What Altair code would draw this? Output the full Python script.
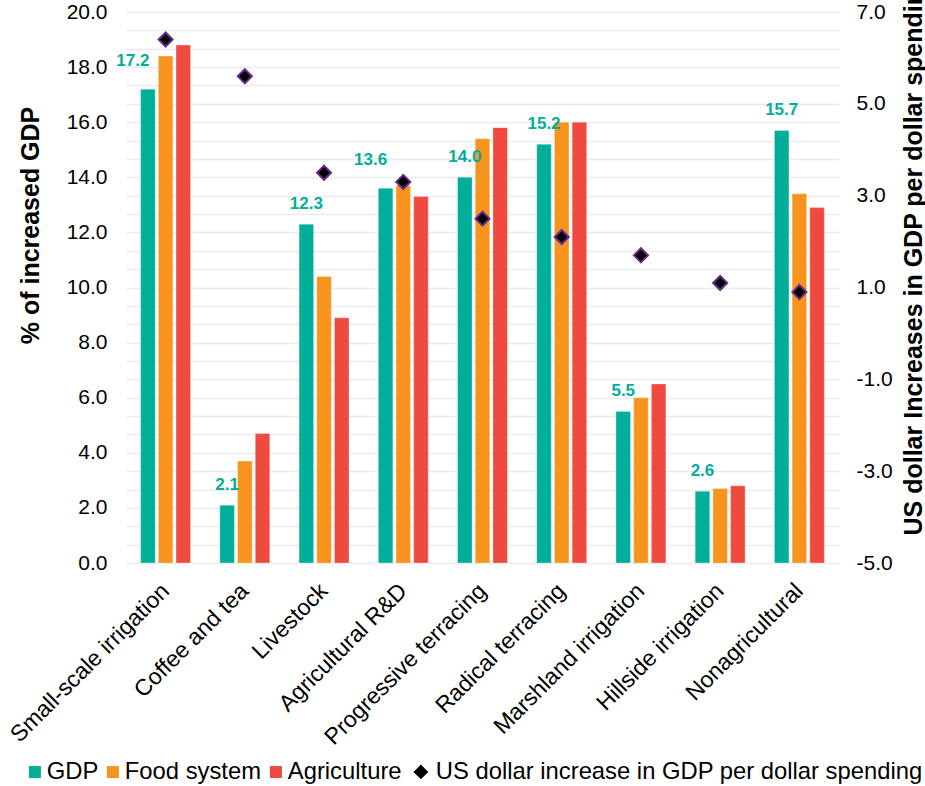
import altair as alt
import pandas as pd

categories = ["Small-scale irrigation", "Coffee and tea", "Livestock", "Agricultural R&D",
              "Progressive terracing", "Radical terracing", "Marshland irrigation",
              "Hillside irrigation", "Nonagricultural"]
series_names = ["GDP", "Food system", "Agriculture"]
gdp = [17.2, 2.1, 12.3, 13.6, 14.0, 15.2, 5.5, 2.6, 15.7]
food_system = [18.4, 3.7, 10.4, 13.7, 15.4, 16.0, 6.0, 2.7, 13.4]
agriculture = [18.8, 4.7, 8.9, 13.3, 15.8, 16.0, 6.5, 2.8, 12.9]
usd_per_dollar = [6.4, 5.6, 3.5, 3.3, 2.5, 2.1, 1.7, 1.1, 0.9]
point_series = "US dollar increase in GDP per dollar spending"
left_title = "% of increased GDP"
right_title = "US dollar Increases in GDP per dollar spending"
bar_colors = ["#00AE9A", "#F7941D", "#EF4A3F"]
label_color = "#00AE9A"
diamond_stroke = "#6A2C8E"
FONT = "Liberation Sans"

bars_df = pd.DataFrame({
    "category": categories * 3,
    "series": [s for s in series_names for _ in categories],
    "value": gdp + food_system + agriculture,
})
points_df = pd.DataFrame({
    "category": categories,
    "usd": usd_per_dollar,
    "metric": [point_series] * len(categories),
})

left_grid_values = [round(i * 20 / 30, 6) for i in range(31)]

x_enc = alt.X(
    "category:N", sort=categories,
    scale=alt.Scale(paddingInner=0.37, paddingOuter=0.185),
    axis=alt.Axis(title=None, labelAngle=315, labelAlign="right", labelBaseline="middle",
                  labelFontSize=23, labelPadding=24, ticks=False, domain=False,
                  labelLimit=400, labelOverlap=False, grid=False),
)
xoff_enc = alt.XOffset("series:N", sort=series_names,
                       scale=alt.Scale(domain=series_names, paddingInner=0.18, paddingOuter=0))

y_left_scale = alt.Scale(domain=[0, 20], nice=False, zero=True)

bars = alt.Chart(bars_df).mark_bar(stroke="white", strokeWidth=0.5, strokeOpacity=0.6).encode(
    x=x_enc,
    xOffset=xoff_enc,
    y=alt.Y("value:Q", scale=y_left_scale,
            axis=alt.Axis(values=left_grid_values, tickCount=31,
                          labelExpr="abs(datum.value/2 - round(datum.value/2)) < 0.001 ? format(datum.value, '.1f') : ''",
                          grid=True, gridColor="#ebebeb", gridWidth=1.6,
                          ticks=False, domain=False, labelFontSize=21, labelPadding=19,
                          labelOverlap=False, labelFlush=False,
                          title=left_title, titleFontSize=25, titleFontWeight="bold",
                          titleX=-96, titleY=213, titleAngle=270, titleAlign="center",
                          titleBaseline="middle")),
    color=alt.Color("series:N", scale=alt.Scale(domain=series_names, range=bar_colors),
                    legend=alt.Legend(orient="none", legendX=-103, legendY=748,
                                      direction="horizontal", title=None, padding=0,
                                      symbolType="square", symbolSize=144,
                                      symbolStrokeWidth=0, symbolOpacity=1,
                                      labelFontSize=23.8, labelOffset=0, columnPadding=2,
                                      labelFont=FONT, labelColor="black")),
)

shifted = "indexof(['Small-scale irrigation', 'Agricultural R&D'], datum.category) >= 0"

text_base = alt.Chart(bars_df).transform_filter(alt.datum.series == "GDP")

text_normal = text_base.transform_filter("!(" + shifted + ")").mark_text(
    font=FONT, fontWeight="bold", fontSize=17, color=label_color, dy=-20, baseline="middle"
).encode(
    x=x_enc, xOffset=xoff_enc,
    y=alt.Y("value:Q", scale=y_left_scale),
    text=alt.Text("value:Q", format=".1f"),
)

text_shifted = text_base.transform_filter(shifted).mark_text(
    font=FONT, fontWeight="bold", fontSize=17, color=label_color, dy=-28, dx=-15,
    baseline="middle"
).encode(
    x=x_enc, xOffset=xoff_enc,
    y=alt.Y("value:Q", scale=y_left_scale),
    text=alt.Text("value:Q", format=".1f"),
)

left_layer = alt.layer(bars, text_normal, text_shifted)

points = alt.Chart(points_df).mark_point(
    filled=True, fill="black", stroke=diamond_stroke, strokeWidth=2, size=200, opacity=1
).encode(
    x=x_enc,
    y=alt.Y("usd:Q", scale=alt.Scale(domain=[-5, 7], nice=False, zero=False),
            axis=alt.Axis(orient="right", values=[-5, -3, -1, 1, 3, 5, 7], tickCount=7,
                          labelExpr="(datum.value < 0 ? '-' : '') + format(abs(datum.value), '.1f')",
                          grid=False, ticks=False, domain=False, labelFontSize=21,
                          labelPadding=17, labelFlush=False, labelOverlap=False,
                          title=right_title, titleFontSize=25, titleFontWeight="bold",
                          titleAngle=270, titleAlign="left", titleBaseline="middle",
                          titleX=74, titleY=523)),
    shape=alt.Shape("metric:N", scale=alt.Scale(range=["diamond"]),
                    legend=alt.Legend(orient="none", legendX=283, legendY=748, title=None,
                                      padding=0,
                                      symbolType="diamond", symbolSize=220,
                                      symbolFillColor="black", symbolStrokeColor=diamond_stroke,
                                      symbolStrokeWidth=2, labelFontSize=23.8, labelOffset=3,
                                      labelFont=FONT, labelColor="black", labelLimit=600)),
)

chart = alt.layer(left_layer, points).resolve_scale(y="independent").properties(
    width=713, height=551,
    autosize=alt.AutoSizeParams(type="none"),
    padding={"left": 126, "top": 12, "right": 86, "bottom": 223},
    background="white",
).configure_view(stroke=None).configure_axis(
    labelFont=FONT, titleFont=FONT, labelColor="black", titleColor="black"
).configure_legend(labelFont=FONT)

chart.save("out.html", embed_options={"renderer": "svg", "actions": False})
